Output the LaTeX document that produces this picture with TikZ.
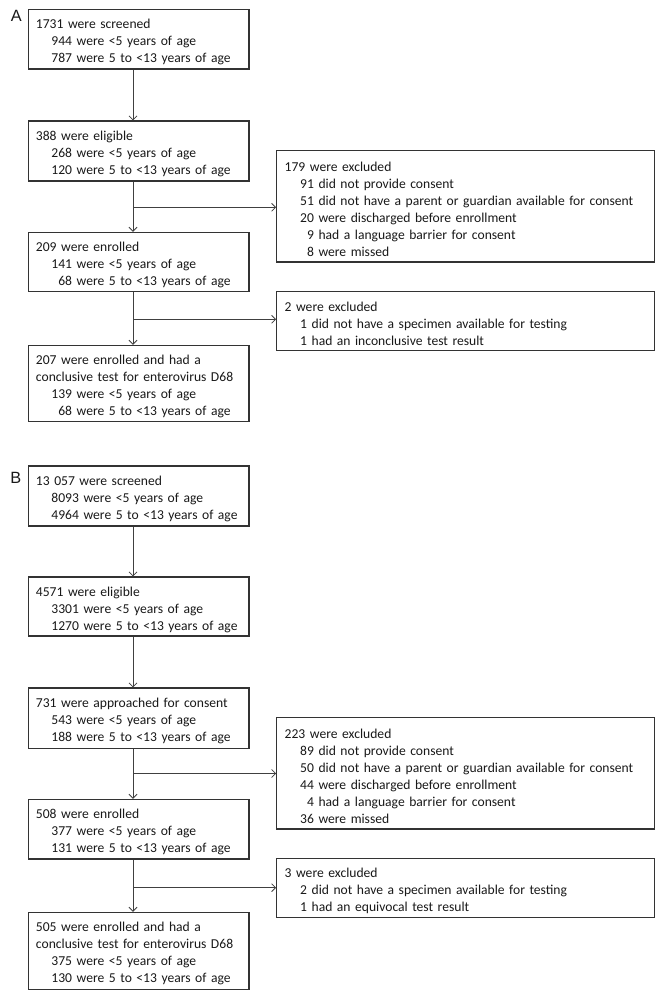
\documentclass[tikz,border=0pt]{standalone}
\usepackage{fontspec}
\setmainfont{Carlito}
\newfontfamily\labfont{Liberation Sans}
\usetikzlibrary{arrows.meta}
\newcommand{\myind}{\hspace*{15.5pt}}
\newcommand{\dg}{\phantom{0}}
\begin{document}
\begin{tikzpicture}[x=1pt,y=-1pt,
  boxbase/.style={draw=black!80, line width=1.1pt, text=black!90, align=left,
    inner ysep=0pt, font=\fontsize{13.6}{17}\selectfont,
    execute at begin node={\rule{0pt}{15.5pt}}},
  mainbox/.style={boxbase, minimum width=220.3pt, text width=205.8pt, inner xsep=7.25pt},
  exbox/.style={boxbase, minimum width=377.6pt, text width=361.6pt, inner xsep=8pt},
  conn/.style={draw=black!75, line width=0.8pt, -{Straight Barb[length=4pt,width=8pt]}},
  panel/.style={font=\labfont\fontsize{16.3}{18}\selectfont, text=black!90, inner sep=0pt}]
\useasboundingbox (0,0) rectangle (664,999);
\fill[white] (0,0) rectangle (664,999);

% Panel A
\node[panel] (lA) at (16.2,16) {A};
\node[mainbox, minimum height=59.7pt] (a1) at (138.85,39.15) {1731 were screened\\\myind 944 were <5 years of age\\\myind 787 were 5 to <13 years of age};
\node[mainbox, minimum height=60pt] (a2) at (138.85,151) {388 were eligible\\\myind 268 were <5 years of age\\\myind 120 were 5 to <13 years of age};
\node[exbox, minimum height=111.3pt] (ae1) at (465.5,206.35) {179 were excluded\\\myind 91 did not provide consent\\\myind 51 did not have a parent or guardian available for consent\\\myind 20 were discharged before enrollment\\\myind \dg9 had a language barrier for consent\\\myind \dg8 were missed};
\node[mainbox, minimum height=59.4pt] (a3) at (138.85,262) {209 were enrolled\\\myind 141 were <5 years of age\\\myind \dg68 were 5 to <13 years of age};
\node[exbox, minimum height=59pt] (ae2) at (465.5,321.2) {2 were excluded\\\myind 1 did not have a specimen available for testing\\\myind 1 had an inconclusive test result};
\node[mainbox, minimum height=76.4pt] (a4) at (138.85,383.5) {207 were enrolled and had a\\conclusive test for enterovirus D68\\\myind 139 were <5 years of age\\\myind \dg68 were 5 to <13 years of age};

\coordinate (tA) at (133,0);
\coordinate (brA1) at (133,207.3);
\coordinate (brA2) at (133,319.3);
\draw[conn] (a1.south -| tA) -- (a2.north -| tA);
\draw[conn] (a2.south -| tA) -- (a3.north -| tA);
\draw[conn] (brA1) -- (brA1 -| ae1.west);
\draw[conn] (a3.south -| tA) -- (a4.north -| tA);
\draw[conn] (brA2) -- (brA2 -| ae2.west);

% Panel B
\node[panel] (lB) at (15.9,477.8) {B};
\node[mainbox, minimum height=60pt] (b1) at (138.85,496) {13 057 were screened\\\myind 8093 were <5 years of age\\\myind 4964 were 5 to <13 years of age};
\node[mainbox, minimum height=59pt] (b2) at (138.85,606.5) {4571 were eligible\\\myind 3301 were <5 years of age\\\myind 1270 were 5 to <13 years of age};
\node[mainbox, minimum height=60.3pt] (b3) at (138.85,718.15) {731 were approached for consent\\\myind 543 were <5 years of age\\\myind 188 were 5 to <13 years of age};
\node[exbox, minimum height=111.3pt] (be1) at (465.5,773.35) {223 were excluded\\\myind 89 did not provide consent\\\myind 50 did not have a parent or guardian available for consent\\\myind 44 were discharged before enrollment\\\myind \dg4 had a language barrier for consent\\\myind 36 were missed};
\node[mainbox, minimum height=59.7pt] (b4) at (138.85,829.15) {508 were enrolled\\\myind 377 were <5 years of age\\\myind 131 were 5 to <13 years of age};
\node[exbox, minimum height=59.4pt] (be2) at (465.5,888) {3 were excluded\\\myind 2 did not have a specimen available for testing\\\myind 1 had an equivocal test result};
\node[mainbox, minimum height=77pt] (b5) at (138.85,950.8) {505 were enrolled and had a\\conclusive test for enterovirus D68\\\myind 375 were <5 years of age\\\myind 130 were 5 to <13 years of age};

\coordinate (tB) at (133,0);
\coordinate (brB1) at (133,773.5);
\coordinate (brB2) at (133,887.7);
\draw[conn] (b1.south -| tB) -- (b2.north -| tB);
\draw[conn] (b2.south -| tB) -- (b3.north -| tB);
\draw[conn] (b3.south -| tB) -- (b4.north -| tB);
\draw[conn] (brB1) -- (brB1 -| be1.west);
\draw[conn] (b4.south -| tB) -- (b5.north -| tB);
\draw[conn] (brB2) -- (brB2 -| be2.west);
\end{tikzpicture}
\end{document}
